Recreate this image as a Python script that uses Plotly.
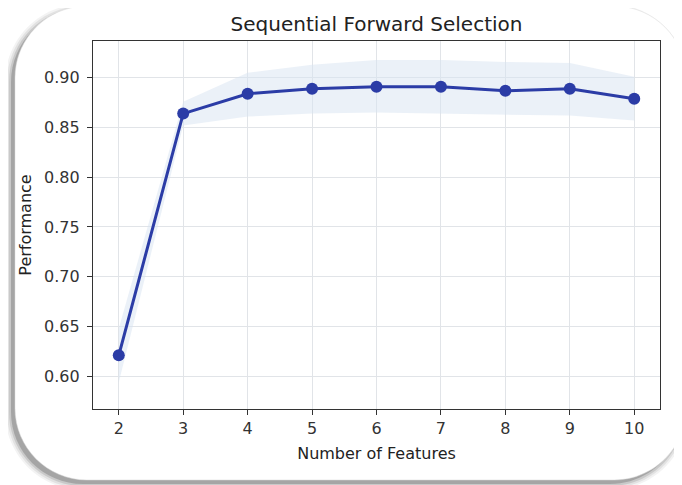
import plotly.graph_objects as go

# ---- data ----
n_features = [2, 3, 4, 5, 6, 7, 8, 9, 10]
performance = [0.621, 0.864, 0.884, 0.889, 0.891, 0.891, 0.887, 0.889, 0.879]
perf_upper = [0.648, 0.876, 0.905, 0.913, 0.918, 0.918, 0.916, 0.915, 0.901]
perf_lower = [0.594, 0.852, 0.861, 0.864, 0.865, 0.864, 0.863, 0.862, 0.857]
y_ticks = [0.60, 0.65, 0.70, 0.75, 0.80, 0.85, 0.90]
y_tick_labels = ["0.60", "0.65", "0.70", "0.75", "0.80", "0.85", "0.90"]

OFF = 8  # page body margin
W, H = 682 - OFF, 485 - OFF
L, R, T, B = 93 - OFF, 660 - OFF, 41 - OFF, 409 - OFF  # plot area in figure pixels
PW, PH = R - L, B - T


def px2paper(x, y):
    # x, y given in window pixels
    x -= OFF
    y -= OFF
    return (x - L) / PW, (B - y) / PH


def rr_path(x0, y0, x1, y1, r):
    k = 0.5523 * r

    def P(x, y):
        a, b = px2paper(x, y)
        return f"{a:.5f},{b:.5f}"

    s = "M" + P(x0 + r, y0)
    s += " L" + P(x1 - r, y0)
    s += " C" + P(x1 - r + k, y0) + " " + P(x1, y0 + r - k) + " " + P(x1, y0 + r)
    s += " L" + P(x1, y1 - r)
    s += " C" + P(x1, y1 - r + k) + " " + P(x1 - r + k, y1) + " " + P(x1 - r, y1)
    s += " L" + P(x0 + r, y1)
    s += " C" + P(x0 + r - k, y1) + " " + P(x0, y1 - r + k) + " " + P(x0, y1 - r)
    s += " L" + P(x0, y0 + r)
    s += " C" + P(x0, y0 + r - k) + " " + P(x0 + r - k, y0) + " " + P(x0 + r, y0)
    s += " Z"
    return s


shapes = []
# soft shadow (offset left/down)
cx0, cy0, cx1, cy1, rad = 15, 6, 686, 480, 72
for grow, op in [(6, 0.07), (4, 0.11), (2, 0.18), (0, 0.32)]:
    shapes.append(dict(type="path", xref="paper", yref="paper", layer="below",
                       path=rr_path(cx0 - 4 - grow, cy0 + 4 - grow, cx1 - 4 + grow, cy1 + 4 + grow, rad + grow),
                       fillcolor=f"rgba(90,90,90,{op})", line=dict(width=0)))
# card
shapes.append(dict(type="path", xref="paper", yref="paper", layer="below",
                   path=rr_path(cx0, cy0, cx1, cy1, rad),
                   fillcolor="white", line=dict(color="rgba(220,220,220,0.5)", width=1)))

fig = go.Figure()
fig.add_trace(go.Scatter(x=n_features, y=perf_upper, mode="lines",
                         line=dict(width=0, color="rgba(0,0,0,0)"),
                         hoverinfo="skip", showlegend=False))
fig.add_trace(go.Scatter(x=n_features, y=perf_lower, mode="lines", fill="tonexty",
                         fillcolor="rgba(215,228,241,0.5)",
                         line=dict(width=0, color="rgba(0,0,0,0)"),
                         hoverinfo="skip", showlegend=False))
fig.add_trace(go.Scatter(x=n_features, y=performance, mode="lines+markers",
                         line=dict(color="#2b3ca6", width=3),
                         marker=dict(color="#2b3ca6", size=12),
                         showlegend=False))

axis_common = dict(showline=True, linecolor="#333333", linewidth=1.3, mirror=True,
                   ticks="outside", ticklen=5, tickwidth=1.2, tickcolor="#333333",
                   showgrid=True, gridcolor="#e1e4e8", gridwidth=1, zeroline=False,
                   tickfont=dict(family="DejaVu Sans", size=16, color="#333333"))

fig.update_layout(
    width=W, height=H,
    margin=dict(l=L, r=W - R, t=T, b=H - B, autoexpand=False),
    paper_bgcolor="white", plot_bgcolor="rgba(0,0,0,0)",
    shapes=shapes,
    title=dict(text="Sequential Forward Selection", x=0.5, xref="paper",
               y=1 - (24 - OFF) / H, yref="container", yanchor="middle",
               font=dict(family="DejaVu Sans", size=20, color="#222222")),
    xaxis=dict(range=[1.6, 10.4], tickvals=n_features, ticktext=[str(v) for v in n_features],
               title=dict(text="Number of Features", standoff=10,
                          font=dict(family="DejaVu Sans", size=16, color="#222222")),
               **axis_common),
    yaxis=dict(range=[0.567, 0.937], tickvals=y_ticks, ticktext=y_tick_labels,
               ticklabelstandoff=4,
               title=dict(text="Performance", standoff=8,
                          font=dict(family="DejaVu Sans", size=16, color="#222222")),
               **axis_common),
)

fig.write_html("out.html")
